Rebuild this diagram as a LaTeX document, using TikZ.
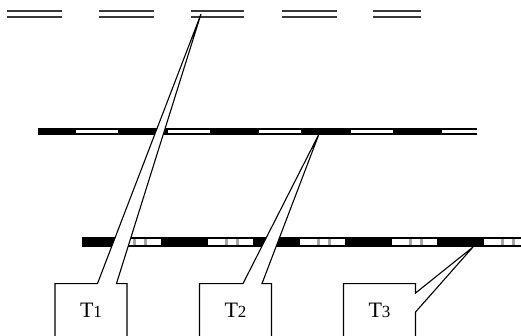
\documentclass[tikz,border=0pt]{standalone}
\usepackage{fontspec}
\setmainfont{Liberation Serif}
\usepackage{tikz}
\usetikzlibrary{shapes}
\usetikzlibrary{shapes.callouts}
\usetikzlibrary{positioning}

\begin{document}
\begin{tikzpicture}[x=1pt, y=-1pt,
                    tag node/.style={rectangle callout, draw, fill=white, line width=1.1pt,
                      anchor=north, minimum width=72pt, inner sep=0pt,
                      text height=34pt, text depth=58pt, callout pointer width=19pt,
                      font=\fontsize{22}{22}\selectfont},
                    thin rail/.style={line width=1.7pt, color=black!78},
                    gap/.style={white, line width=3pt},
                    wide gap/.style={white, line width=6pt},
                    tick/.style={black!35, line width=2.5pt}]

  \useasboundingbox (0,0) rectangle (521,336);
  \clip (0,0) rectangle (521,336);

  % top track
  \foreach \a/\b in {7/62, 99/154, 191/244, 282/337, 373/421} {
    \draw[thin rail] (\a,11) -- (\b,11);
    \draw[thin rail] (\a,17.3) -- (\b,17.3);
  }

  % middle track
  \draw[line width=7.5pt] (38,131.5) -- (477,131.5);
  \foreach \i in {0,...,4}
    \draw[gap] (76+91.6*\i,131.5) -- ++(42,0);

  % bottom track
  \draw[line width=10pt] (82,242) -- (530,242);
  \foreach \i in {0,...,4} {
    \draw[wide gap] (116+92*\i,242) -- ++(45,0);
    \draw[tick] (134.5+92*\i,239) -- ++(0,6);
    \draw[tick] (145.5+92*\i,239) -- ++(0,6);
  }

  \coordinate (p1) at (201,14);
  \coordinate (p2) at (319,134);
  \coordinate (p3) at (473,247);

  \node[tag node, callout absolute pointer={(p1)}] (1) at (91,283) {T{\fontsize{17}{17}\selectfont 1}};
  \node[tag node, callout absolute pointer={(p2)}] (2) at (235.5,283) {T{\fontsize{17}{17}\selectfont 2}};
  \node[tag node, callout absolute pointer={(p3)}] (3) at (379.5,283) {T{\fontsize{17}{17}\selectfont 3}};

\end{tikzpicture}
\end{document}
